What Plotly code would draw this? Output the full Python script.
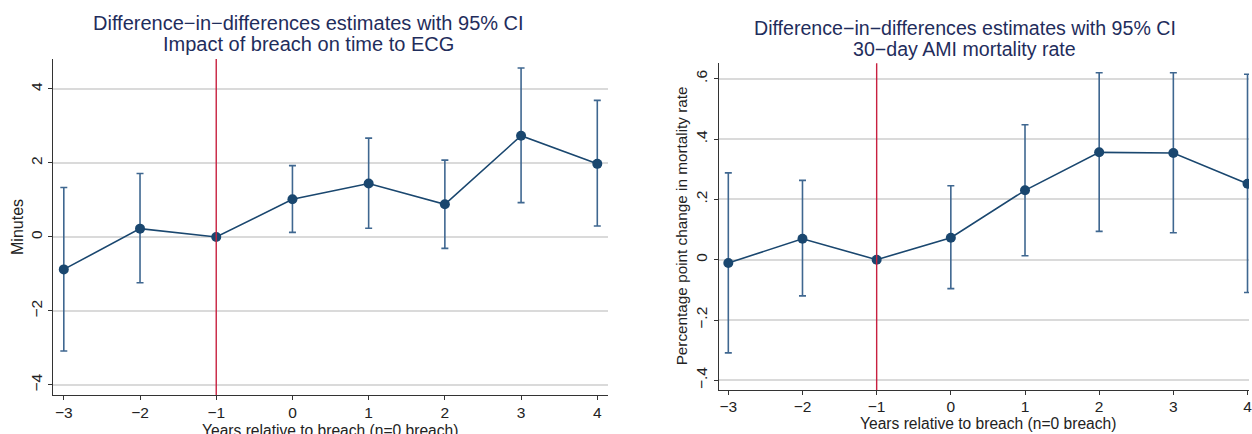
import plotly.graph_objects as go

years = [-3, -2, -1, 0, 1, 2, 3, 4]
tick_text = ["\u22123", "\u22122", "\u22121", "0", "1", "2", "3", "4"]

ecg_est = [-0.876, 0.226, 0.0, 1.02, 1.445, 0.885, 2.736, 1.977]
ecg_lo = [-3.08, -1.237, 0.0, 0.126, 0.235, -0.307, 0.93, 0.298]
ecg_hi = [1.336, 1.716, 0.0, 1.93, 2.673, 2.077, 4.569, 3.693]

ami_est = [-0.011, 0.0696, 0.0, 0.073, 0.23, 0.356, 0.354, 0.252]
ami_lo = [-0.309, -0.12, 0.0, -0.096, 0.013, 0.094, 0.0895, -0.109]
ami_hi = [0.288, 0.263, 0.0, 0.245, 0.4475, 0.62, 0.62, 0.615]

ecg_ticks = [-4, -2, 0, 2, 4]
ecg_ticktext = ["\u22124", "\u22122", "0", "2", "4"]
ami_ticks = [-0.4, -0.2, 0, 0.2, 0.4, 0.6]
ami_ticktext = ["\u2212.4", "\u2212.2", "0", ".2", ".4", ".6"]

title_main = "Difference\u2212in\u2212differences estimates with 95% CI"
title_ecg = "Impact of breach on time to ECG"
title_ami = "30\u2212day AMI mortality rate"
x_title = "Years relative to breach (n=0 breach)"
y_title_ecg = "Minutes"
y_title_ami = "Percentage point change in mortality rate"

NAVY = "#1a476f"
BAR = "#3f6790"
RED = "#c8203f"
TITLE = "#1f2d5c"
TXT = "#222222"
FONT = "Liberation Sans, Arial, sans-serif"

fig = go.Figure()

def add_series(est, lo, hi, xa, ya):
    plus = [h - e for h, e in zip(hi, est)]
    minus = [e - l for e, l in zip(est, lo)]
    fig.add_trace(go.Scatter(
        x=years, y=est, xaxis=xa, yaxis=ya, mode="lines+markers",
        line=dict(color=NAVY, width=1.6),
        marker=dict(color=NAVY, size=10),
        error_y=dict(type="data", array=plus, arrayminus=minus, color=BAR,
                     thickness=1.6, width=3.5),
        showlegend=False, hoverinfo="x+y"))

add_series(ecg_est, ecg_lo, ecg_hi, "x", "y")
add_series(ami_est, ami_lo, ami_hi, "x2", "y2")

axis_common = dict(showline=True, linecolor="#333333", linewidth=1.2,
                   ticks="outside", ticklen=4, tickcolor="#333333", tickwidth=1.2,
                   tickfont=dict(family=FONT, size=15.5, color=TXT),
                   ticklabeloverflow="allow", zeroline=False)

def ann(text, x, y, size, color=TXT, angle=0):
    return dict(text=text, x=x / 1252, y=1 - y / 434, xref="paper", yref="paper",
                showarrow=False, xanchor="center", yanchor="middle", textangle=angle,
                font=dict(family=FONT, size=size, color=color))

fig.update_layout(
    width=1252, height=434,
    margin=dict(l=0, r=0, t=0, b=0),
    paper_bgcolor="white", plot_bgcolor="white",
    xaxis=dict(domain=[0.0423, 0.487], range=[-3.144, 4.144],
               tickvals=years, ticktext=tick_text, showgrid=False,
               ticklabelstandoff=-1, anchor="y", **axis_common),
    yaxis=dict(domain=[0.0899, 0.864], range=[-4.27, 4.81],
               tickvals=ecg_ticks, ticktext=ecg_ticktext, tickangle=-90,
               showgrid=True, gridcolor="#dadada", gridwidth=1.5,
               anchor="x", **axis_common),
    xaxis2=dict(domain=[0.5754, 1.0], range=[-3.13, 4.02],
                tickvals=years, ticktext=tick_text, showgrid=False,
                ticklabelstandoff=-2, anchor="y2", **axis_common),
    yaxis2=dict(domain=[0.1014, 0.854], range=[-0.432, 0.651],
                tickvals=ami_ticks, ticktext=ami_ticktext, tickangle=-90,
                showgrid=True, gridcolor="#dadada", gridwidth=1.5,
                anchor="x2", **axis_common),
    shapes=[
        dict(type="line", xref="x", yref="y domain", x0=-1, x1=-1, y0=0, y1=1,
             line=dict(color=RED, width=1.4), layer="above"),
        dict(type="line", xref="x2", yref="y2 domain", x0=-1, x1=-1, y0=0, y1=1,
             line=dict(color=RED, width=1.4), layer="above"),
    ],
    annotations=[
        ann(title_main, 309, 23, 20, TITLE),
        ann(title_ecg, 309, 43.5, 20, TITLE),
        ann(title_main, 967, 28, 19.6, TITLE),
        ann(title_ami, 967, 48.5, 19.6, TITLE),
        ann(x_title, 331, 430, 15.6),
        ann(x_title, 990, 423, 15.6),
        ann(y_title_ecg, 17, 227, 16, angle=-90),
        ann(y_title_ami, 684, 226, 15.3, angle=-90),
    ],
)

fig.write_html("out.html", config={"displayModeBar": False},
               post_script="document.body.style.margin='0px';document.body.style.overflow='hidden';")
